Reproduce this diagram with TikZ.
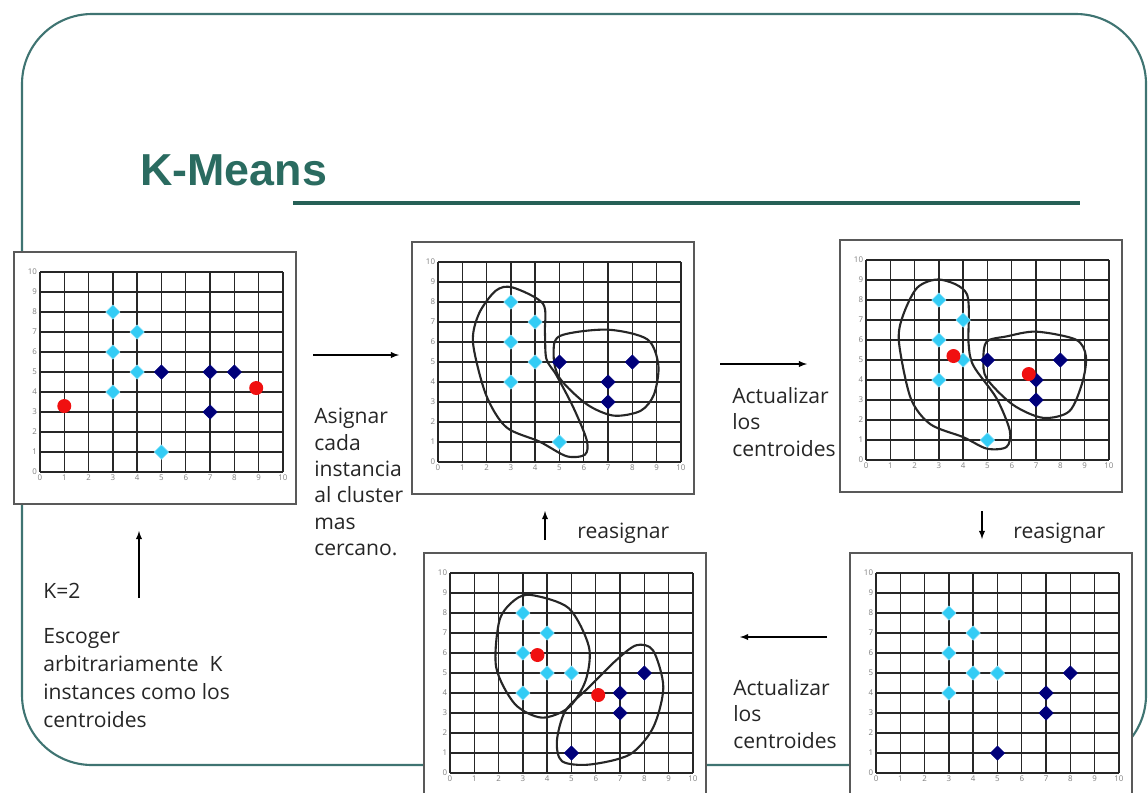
\documentclass[tikz,border=0pt]{standalone}
\usepackage{fontspec}
\setmainfont{Open Sans}
\newfontfamily\titlefont{Liberation Sans}
\usepackage{tikz}
\usetikzlibrary{arrows,positioning,shapes.geometric}
\definecolor{kteal}{HTML}{2A6B60}
\definecolor{kframe}{HTML}{3F7472}
\definecolor{kcyan}{HTML}{33CCF5}
\definecolor{knavy}{HTML}{00007A}
\definecolor{kred}{HTML}{F01010}
\definecolor{ktext}{HTML}{262626}

\tikzset{
  panelbox/.style={draw=gray!70!black, line width=0.8pt, fill=white, minimum width=5.64cm,
    minimum height=5.04cm, inner sep=0pt, outer sep=0pt, anchor=north west},
  in panel/.style={shift={(#1.north west)}, shift={(26,220)}, x=0.486cm, y=0.40cm},
  gridline/.style={draw=black!85, line width=0.8pt},
  ticklbl/.style={font=\fontsize{4.5}{4.5}\selectfont, text=gray, inner sep=1.5pt},
  lightpt/.style={diamond, fill=kcyan, draw=white!40!kcyan, line width=0.3pt,
    minimum size=0.29cm, inner sep=0pt},
  darkpt/.style={lightpt, fill=knavy, draw=knavy},
  centpt/.style={circle, fill=kred, minimum size=0.28cm, inner sep=0pt},
  blob/.style={draw=black!85, line width=1.2pt},
  desc/.style={font=\fontsize{12}{15}\selectfont, text=ktext, align=left, inner sep=0pt,
    anchor=north west},
  flow/.style={-latex, line width=0.6pt, draw=black},
}

% grid with tick labels inside a panel
\newcommand{\kgrid}[1]{%
  \begin{scope}[in panel=#1]
    \foreach \i in {0,...,10} {
      \draw[gridline] (\i,0) -- (\i,10);
      \draw[gridline] (0,\i) -- (10,\i);
      \node[ticklbl, left] (#1y\i) at (0,\i) {\i};
      \node[ticklbl, below] (#1x\i) at (\i,0) {\i};
    }
  \end{scope}}

\begin{document}
\begin{tikzpicture}[x=0.02cm, y=-0.02cm]
  \useasboundingbox (0,0) rectangle (1148,792);
  \clip (0,0) rectangle (1148,792);

  % slide frame and title
  \draw[draw=kframe, line width=1.2pt, rounded corners=1.4cm] (22,14) rectangle (1146,765);
  \node[font=\titlefont\bfseries\fontsize{25.5}{25.5}\selectfont, text=kteal, anchor=base west,
    inner sep=0pt] (title) at (140,185) {K-Means};
  \draw[draw=kteal!90!black, line width=2.2pt] (293,203) -- (1080,203);

  % panels
  \node[panelbox] (p1) at (14,252) {};
  \node[panelbox] (p2) at (412,242) {};
  \node[panelbox] (p3) at (840,240) {};
  \node[panelbox] (p4) at (424,553) {};
  \node[panelbox] (p5) at (850,553) {};
  \kgrid{p1}
  \kgrid{p2}
  \kgrid{p3}
  \kgrid{p4}
  \kgrid{p5}

  % panel 1: random start
  \begin{scope}[in panel=p1]
    \foreach \p [count=\k] in {(3,8),(4,7),(3,6),(4,5),(3,4),(5,1)}
      \node[lightpt] (p1a\k) at \p {};
    \foreach \p [count=\k] in {(5,5),(7,5),(8,5),(7,3)}
      \node[darkpt] (p1b\k) at \p {};
    \node[centpt] (p1c1) at (1,3.3) {};
    \node[centpt] (p1c2) at (8.9,4.2) {};
  \end{scope}

  % panel 2: first assignment
  \begin{scope}[in panel=p2]
    \draw[blob] plot[smooth cycle] coordinates {(3.07,8.73) (4.32,7.92) (4.4,6.5) (4.46,5.16)
      (4.87,4.35) (5.57,2.73) (6.12,1.1) (6.05,0.37) (5.29,0.29) (4.18,1.02) (2.8,1.75)
      (1.97,3.38) (1.44,5.97) (1.69,7.43) (2.38,8.57)};
    \draw[blob] plot[smooth cycle] coordinates {(5.01,6.3) (6.95,6.62) (8.61,6.14) (9.07,4.84)
      (8.89,3.38) (8.34,2.56) (7.23,2.32) (6.12,2.89) (5.01,4.19) (4.76,5.32)};
    \foreach \p [count=\k] in {(3,8),(4,7),(3,6),(4,5),(3,4),(5,1)}
      \node[lightpt] (p2a\k) at \p {};
    \foreach \p [count=\k] in {(5,5),(8,5),(7,4),(7,3)}
      \node[darkpt] (p2b\k) at \p {};
  \end{scope}

  % panel 3: updated centroids
  \begin{scope}[in panel=p3]
    \draw[blob] plot[smooth cycle] coordinates {(3.06,9.02) (4.15,8.3) (4.22,5.85) (4.42,4.72)
      (5.37,3.09) (5.92,1.46) (5.78,0.65) (4.97,0.57) (4.01,1.14) (2.65,1.79) (1.84,3.09)
      (1.36,5.85) (1.5,7.15) (2.11,8.62)};
    \draw[blob] plot[smooth cycle] coordinates {(4.97,5.93) (5.78,6.18) (7.0,6.42) (8.64,6.02)
      (9.05,5.2) (8.91,3.9) (8.37,2.44) (7.28,2.11) (6.05,2.76) (4.97,4.07) (4.83,5.04)};
    \foreach \p [count=\k] in {(3,8),(4,7),(3,6),(4,5),(3,4),(5,1)}
      \node[lightpt] (p3a\k) at \p {};
    \foreach \p [count=\k] in {(5,5),(8,5),(7,4),(7,3)}
      \node[darkpt] (p3b\k) at \p {};
    \node[centpt] (p3c1) at (3.6,5.2) {};
    \node[centpt] (p3c2) at (6.7,4.3) {};
  \end{scope}

  % panel 4: second round
  \begin{scope}[in panel=p4]
    \draw[blob] plot[smooth cycle] coordinates {(3.36,8.9) (4.89,8.24) (5.72,6.3) (5.58,4.62)
      (4.89,3.28) (3.78,2.77) (2.67,3.45) (1.9,5.29) (2.04,7.65) (2.67,8.66)};
    \draw[blob] plot[smooth cycle] coordinates {(7.67,6.39) (8.36,6.13) (8.78,4.29) (8.36,2.27)
      (7.39,0.92) (5.72,0.42) (4.61,0.59) (4.4,1.6) (4.75,3.11) (5.72,4.29) (6.83,5.63)};
    \foreach \p [count=\k] in {(3,8),(4,7),(3,6),(4,5),(5,5),(3,4)}
      \node[lightpt] (p4a\k) at \p {};
    \foreach \p [count=\k] in {(8,5),(7,4),(7,3),(5,1)}
      \node[darkpt] (p4b\k) at \p {};
    \node[centpt] (p4c1) at (3.6,5.9) {};
    \node[centpt] (p4c2) at (6.1,3.9) {};
  \end{scope}

  % panel 5: reassigned points
  \begin{scope}[in panel=p5]
    \foreach \p [count=\k] in {(3,8),(4,7),(3,6),(4,5),(5,5),(3,4)}
      \node[lightpt] (p5a\k) at \p {};
    \foreach \p [count=\k] in {(8,5),(7,4),(7,3),(5,1)}
      \node[darkpt] (p5b\k) at \p {};
  \end{scope}

  % arrows
  \coordinate (a1s) at (313,355);
  \coordinate (a1e) at (399,355);
  \coordinate (a2s) at (720,364);
  \coordinate (a2e) at (807,364);
  \coordinate (a3s) at (982,511);
  \coordinate (a3e) at (982,539);
  \coordinate (a4s) at (827,637);
  \coordinate (a4e) at (740,637);
  \coordinate (a5s) at (545,540);
  \coordinate (a5e) at (545,511);
  \coordinate (a6s) at (139,598);
  \coordinate (a6e) at (139,531);
  \draw[flow] (a1s) -- (a1e);
  \draw[flow] (a2s) -- (a2e);
  \draw[flow] (a3s) -- (a3e);
  \draw[flow] (a4s) -- (a4e);
  \draw[flow] (a5s) -- (a5e);
  \draw[flow] (a6s) -- (a6e);

  % step texts
  \node[desc] (k2) at (43,583) {K=2};
  \node[desc, font=\fontsize{12}{16}\selectfont] (choose) at (43,628)
    {Escoger\\arbitrariamente~~K\\instances como los\\centroides};
  \node[desc] (assign) at (314,408) {Asignar\\cada\\instancia\\al cluster\\mas\\cercano.};
  \node[desc] (upd1) at (732,387) {Actualizar\\los\\centroides};
  \node[desc] (upd2) at (733,679) {Actualizar\\los\\centroides};
  \node[desc, anchor=base west] (re1) at (577,538) {reasignar};
  \node[desc, anchor=base west] (re2) at (1013,538) {reasignar};
\end{tikzpicture}
\end{document}
